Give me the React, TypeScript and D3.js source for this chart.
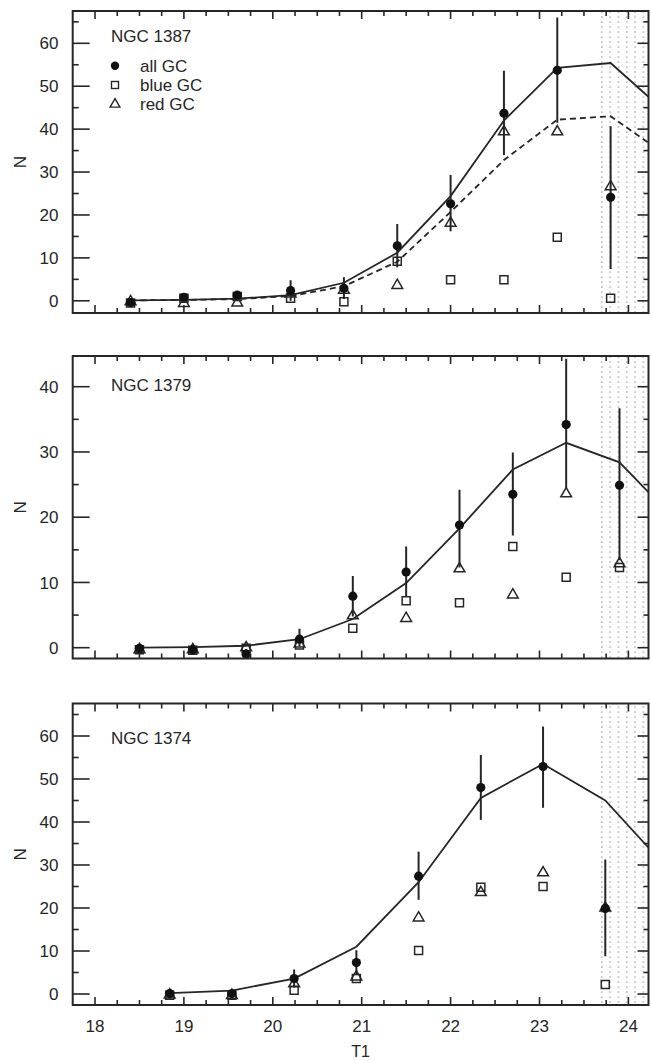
import React from 'react';
import * as d3 from 'd3';

// panel names, legend and axis labels
const panelNames = ['NGC 1387', 'NGC 1379', 'NGC 1374'];
const legendLabels = ['all GC', 'blue GC', 'red GC'];
const xTickValues = [18, 19, 20, 21, 22, 23, 24];
const limitT1 = 23.66; // completeness limit (dotted zone)

// NGC 1387
const t1_1387 = [18.4, 19.0, 19.6, 20.2, 20.8, 21.4, 22.0, 22.6, 23.2, 23.8];
const all_1387 = [-0.4, 0.8, 1.3, 2.4, 2.9, 12.8, 22.6, 43.7, 53.7, 24.1];
const allLo_1387 = [-1.3, 0.0, 0.4, 0.0, 0.4, 7.8, 16.2, 34.0, 41.5, 7.4];
const allHi_1387 = [0.6, 1.6, 2.3, 4.8, 5.5, 17.9, 29.3, 53.6, 66.0, 40.7];
const blue_1387 = [-0.5, 0.6, 1.0, 0.6, -0.2, 9.2, 4.9, 4.9, 14.8, 0.6];
const red_1387 = [-0.2, -0.6, -0.5, 1.6, 2.5, 3.6, 18.1, 39.4, 39.4, 26.6];
const fitT1_1387 = [18.4, 19.0, 19.6, 20.2, 20.8, 21.4, 22.0, 22.6, 23.2, 23.8, 24.4];
const fit_1387 = [0.1, 0.2, 0.5, 1.3, 4.2, 11.2, 24.4, 42.0, 54.3, 55.4, 44.3];
const fitRed_1387 = [0.1, 0.2, 0.4, 1.1, 3.4, 9.1, 20.7, 32.8, 42.2, 43.0, 34.3];

// NGC 1379
const t1_1379 = [18.5, 19.1, 19.7, 20.3, 20.9, 21.5, 22.1, 22.7, 23.3, 23.9];
const all_1379 = [-0.1, -0.3, -1.0, 1.3, 7.9, 11.6, 18.8, 23.5, 34.2, 24.9];
const allLo_1379 = [-0.8, -1.0, -1.8, 0.2, 4.8, 7.8, 12.3, 17.2, 24.4, 13.4];
const allHi_1379 = [0.6, 0.4, -0.2, 2.9, 11.0, 15.5, 24.2, 29.9, 44.3, 36.7];
const blue_1379 = [-0.3, -0.4, -0.1, 0.4, 3.0, 7.2, 6.9, 15.5, 10.8, 12.3];
const red_1379 = [-0.3, -0.3, 0.0, 0.6, 4.9, 4.5, 12.1, 8.1, 23.6, 12.9];
const fitT1_1379 = [18.5, 19.1, 19.7, 20.3, 20.9, 21.5, 22.1, 22.7, 23.3, 23.9, 24.5];
const fit_1379 = [0.0, 0.1, 0.3, 1.3, 4.4, 9.9, 18.3, 27.3, 31.4, 28.4, 20.0];

// NGC 1374
const t1_1374 = [18.84, 19.54, 20.24, 20.94, 21.64, 22.34, 23.04, 23.74];
const all_1374 = [0.1, 0.1, 3.6, 7.3, 27.4, 48.0, 52.9, 19.9];
const allLo_1374 = [-0.7, -0.7, 1.5, 4.4, 21.9, 40.5, 43.3, 8.8];
const allHi_1374 = [0.9, 0.9, 5.7, 10.2, 33.1, 55.6, 62.2, 31.3];
const blue_1374 = [-0.3, -0.3, 0.9, 3.6, 10.1, 24.8, 25.0, 2.2];
const red_1374 = [-0.2, -0.3, 2.4, 4.0, 17.7, 23.6, 28.2, 20.0];
const fitT1_1374 = [18.84, 19.54, 20.24, 20.94, 21.64, 22.34, 23.04, 23.74, 24.44];
const fit_1374 = [0.2, 0.8, 3.6, 11.0, 26.0, 45.6, 53.5, 45.0, 29.2];

const panels = [
  { name: panelNames[0], t1: t1_1387, all: all_1387, lo: allLo_1387, hi: allHi_1387, blue: blue_1387, red: red_1387, fitT1: fitT1_1387, fit: fit_1387, fitRed: fitRed_1387 },
  { name: panelNames[1], t1: t1_1379, all: all_1379, lo: allLo_1379, hi: allHi_1379, blue: blue_1379, red: red_1379, fitT1: fitT1_1379, fit: fit_1379, fitRed: null },
  { name: panelNames[2], t1: t1_1374, all: all_1374, lo: allLo_1374, hi: allHi_1374, blue: blue_1374, red: red_1374, fitT1: fitT1_1374, fit: fit_1374, fitRed: null },
];

// page layout (pixels)
const W = 651;
const H = 1061;
const FL = 72.7;
const FR = 648.5;
const layouts = [
  { top: 11, bottom: 313, zero: 300.8, ref: 60, refPx: 43.3, nameY: 41.5 },
  { top: 356, bottom: 658.5, zero: 647.7, ref: 40, refPx: 386.7, nameY: 390.5 },
  { top: 703.5, bottom: 1005, zero: 994, ref: 60, refPx: 736, nameY: 744 },
];

const FONT = '"Liberation Sans", Arial, Helvetica, sans-serif';
const INK = '#262626';

const x = d3.scaleLinear().domain([18, 24]).range([95, 628.4]);

const circlePath = d3.symbol(d3.symbolCircle, Math.PI * 4.6 * 4.6)();
const squarePath = d3.symbol(d3.symbolSquare, 64)();
const trianglePath = d3.symbol(d3.symbolTriangle, 50)();

const Panel = ({ p, l, i }) => {
  const y = d3.scaleLinear().domain([0, l.ref]).range([l.zero, l.refPx]);
  const line = d3.line().x(d => x(d[0])).y(d => y(d[1]));
  const fitPts = p.fitT1.map((t, k) => [t, p.fit[k]]);
  const redPts = p.fitRed ? p.fitT1.map((t, k) => [t, p.fitRed[k]]) : null;

  const xMinor = d3.range(71, 98).map(k => k / 4).filter(v => x(v) > FL + 2 && x(v) < FR - 2);
  const yTicks = d3.range(-5, 75, 5).filter(v => y(v) > l.top + 2 && y(v) < l.bottom - 2);
  const clipId = `clip${i}`;
  const xs = x(limitT1);

  return (
    <g>
      <defs>
        <clipPath id={clipId}>
          <rect x={FL} y={l.top} width={FR - FL} height={l.bottom - l.top} />
        </clipPath>
      </defs>
      <rect x={xs} y={l.top} width={FR - xs} height={l.bottom - l.top} fill="url(#dots)" />
      <g clipPath={`url(#${clipId})`}>
        <path d={line(fitPts)} fill="none" stroke={INK} strokeWidth={1.8} />
        {redPts && <path d={line(redPts)} fill="none" stroke={INK} strokeWidth={1.8} strokeDasharray="6,4" />}
        {p.t1.map((t, k) => (
          <path key={`b${k}`} d={squarePath} transform={`translate(${x(t)},${y(p.blue[k])})`} fill="none" stroke={INK} strokeWidth={1.5} />
        ))}
        {p.t1.map((t, k) => (
          <path key={`r${k}`} d={trianglePath} transform={`translate(${x(t)},${y(p.red[k])})`} fill="none" stroke={INK} strokeWidth={1.5} />
        ))}
        {p.t1.map((t, k) => (
          <line key={`e${k}`} x1={x(t)} x2={x(t)} y1={y(p.lo[k])} y2={y(p.hi[k])} stroke={INK} strokeWidth={2} />
        ))}
        {p.t1.map((t, k) => (
          <path key={`a${k}`} d={circlePath} transform={`translate(${x(t)},${y(p.all[k])})`} fill="#111" />
        ))}
      </g>
      <rect x={FL} y={l.top} width={FR - FL} height={l.bottom - l.top} fill="none" stroke={INK} strokeWidth={2} />
      {xMinor.map(v => {
        const major = Number.isInteger(v);
        const len = major ? 8 : 5;
        return (
          <g key={`xt${v}`}>
            <line x1={x(v)} x2={x(v)} y1={l.bottom} y2={l.bottom - len} stroke={INK} strokeWidth={1.6} />
            <line x1={x(v)} x2={x(v)} y1={l.top} y2={l.top + len} stroke={INK} strokeWidth={1.6} />
          </g>
        );
      })}
      {yTicks.map(v => {
        const major = v % 10 === 0;
        return (
          <g key={`yt${v}`}>
            <line x1={FL} x2={FL + (major ? 17 : 6)} y1={y(v)} y2={y(v)} stroke={INK} strokeWidth={1.6} />
            <line x1={FR} x2={FR - (major ? 11 : 5)} y1={y(v)} y2={y(v)} stroke={INK} strokeWidth={1.6} />
            {major && (
              <text x={58.5} y={y(v)} dy="0.36em" textAnchor="end" fontSize={17} fill={INK}>{v}</text>
            )}
          </g>
        );
      })}
      <text x={111} y={l.nameY} fontSize={17} fill={INK}>{p.name}</text>
      <text transform={`translate(26,${(l.top + l.bottom) / 2}) rotate(-90)`} textAnchor="middle" fontSize={17} fill={INK}>N</text>
    </g>
  );
};

const Legend = () => {
  const rows = [65.7, 85, 104.3];
  return (
    <g>
      <circle cx={115} cy={rows[0]} r={4.2} fill="#111" />
      <rect x={111.5} y={rows[1] - 3.5} width={7} height={7} fill="none" stroke={INK} strokeWidth={1.4} />
      <path d={d3.symbol(d3.symbolTriangle, 42)()} transform={`translate(115,${rows[2]})`} fill="none" stroke={INK} strokeWidth={1.4} />
      {legendLabels.map((s, k) => (
        <text key={s} x={140} y={rows[k]} dy="0.36em" fontSize={17} fill={INK}>{s}</text>
      ))}
    </g>
  );
};

export default function App() {
  return (
    <svg width={W} height={H} style={{ position: 'absolute', left: 0, top: 0, background: '#fff' }} fontFamily={FONT}>
      <defs>
        <pattern id="dots" patternUnits="userSpaceOnUse" x={601} y={0} width={8.3} height={5}>
          <rect x={0} y={1.5} width={1.6} height={1.1} fill="#9a9a9a" />
        </pattern>
      </defs>
      <rect width={W} height={H} fill="#fff" />
      {panels.map((p, i) => (
        <Panel key={p.name} p={p} l={layouts[i]} i={i} />
      ))}
      <Legend />
      {xTickValues.map(v => (
        <text key={v} x={x(v)} y={1032} textAnchor="middle" fontSize={17} fill={INK}>{v}</text>
      ))}
      <text x={(FL + FR) / 2} y={1056.5} textAnchor="middle" fontSize={16} fill={INK}>T1</text>
    </svg>
  );
}
